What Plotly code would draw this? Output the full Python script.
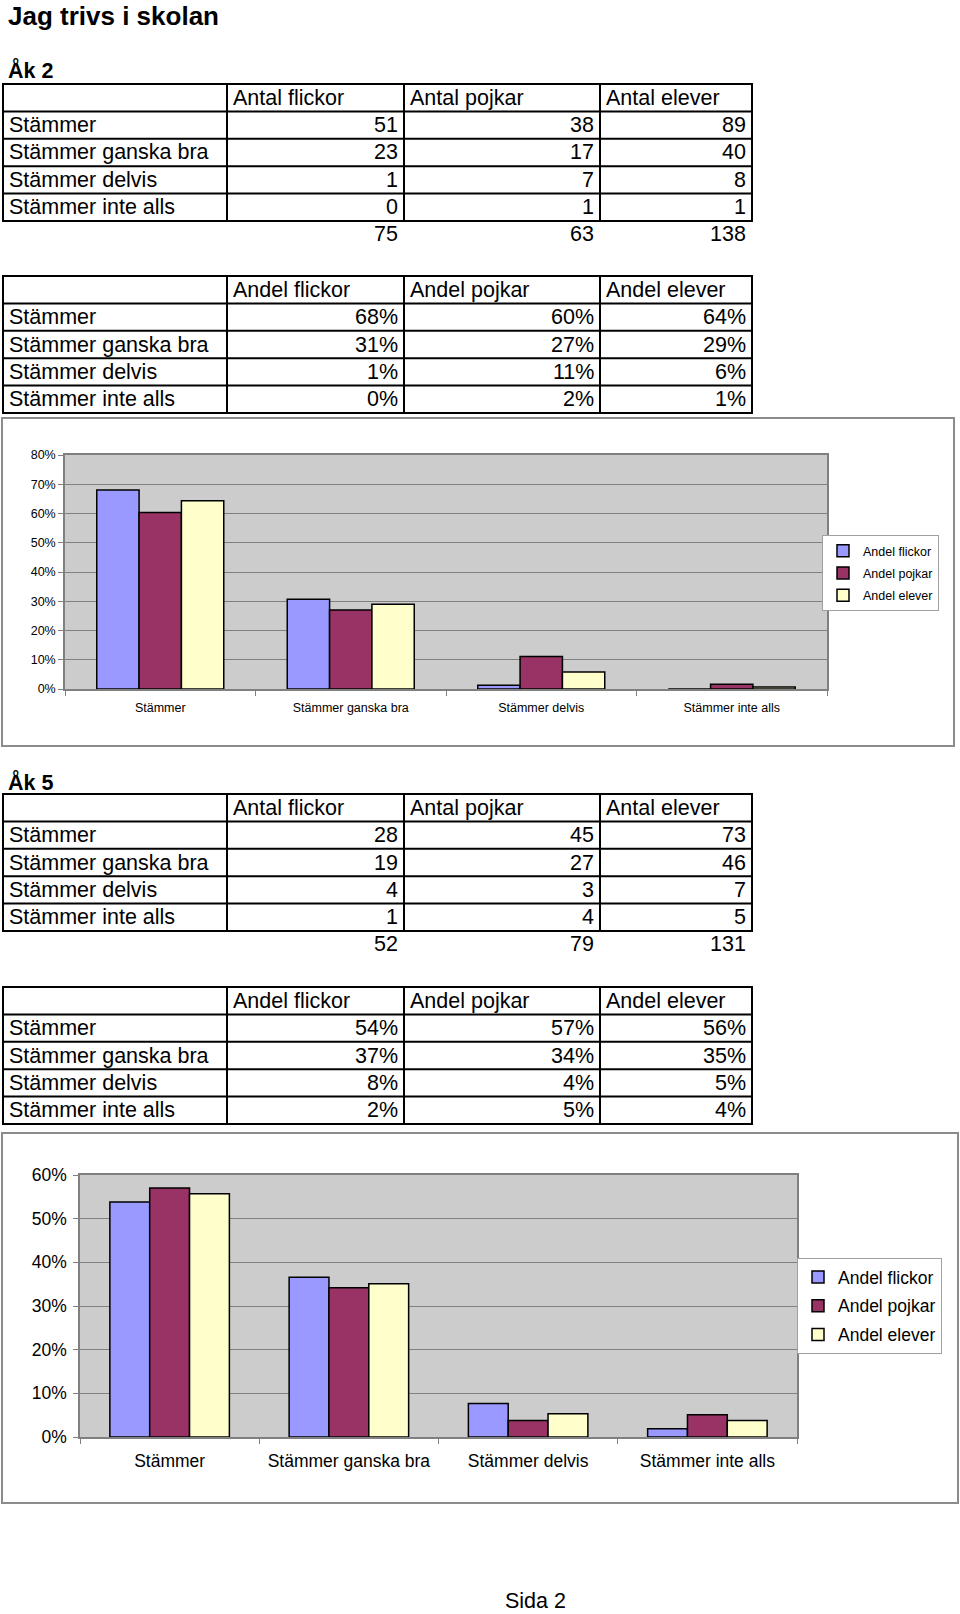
import plotly.graph_objects as go

# ---------------- data ----------------
categories = ["Stämmer", "Stämmer ganska bra", "Stämmer delvis", "Stämmer inte alls"]
count_headers = ["Antal flickor", "Antal pojkar", "Antal elever"]
share_headers = ["Andel flickor", "Andel pojkar", "Andel elever"]

# Åk 2
ak2_flickor_n = [51, 23, 1, 0]
ak2_pojkar_n = [38, 17, 7, 1]
ak2_elever_n = [89, 40, 8, 1]
ak2_totals = [75, 63, 138]
ak2_andel_flickor = [0.680, 0.307, 0.013, 0.000]
ak2_andel_pojkar = [0.603, 0.270, 0.111, 0.016]
ak2_andel_elever = [0.644, 0.290, 0.058, 0.007]

# Åk 5
ak5_flickor_n = [28, 19, 4, 1]
ak5_pojkar_n = [45, 27, 3, 4]
ak5_elever_n = [73, 46, 7, 5]
ak5_totals = [52, 79, 131]
ak5_andel_flickor = [0.538, 0.366, 0.077, 0.019]
ak5_andel_pojkar = [0.570, 0.342, 0.038, 0.051]
ak5_andel_elever = [0.557, 0.351, 0.053, 0.038]

series_colors = ["#9999FF", "#993366", "#FFFFCC"]

# ---------------- helpers ----------------
W, H = 960, 1614
FONT = "Liberation Sans, Arial, Helvetica, sans-serif"


def px(x):
    return x / W


def py(y):
    return 1 - y / H


fig = go.Figure()
shapes = []
annotations = []


def text(x, y, s, size, anchor="left", bold=False):
    annotations.append(dict(
        x=px(x), y=py(y), xref="paper", yref="paper", text=("<b>%s</b>" % s) if bold else s,
        showarrow=False, xanchor=anchor, yanchor="middle",
        font=dict(family=FONT, size=size, color="black"), borderpad=0,
    ))


def add_table(top, headers, columns, fmt, totals=None):
    col_x = [3, 227, 404, 600, 752]
    rh = 27.4
    nrows = len(categories) + 1
    ys = [top + i * rh for i in range(nrows + 1)]
    for y in ys:
        shapes.append(dict(type="line", xref="paper", yref="paper", x0=px(col_x[0] - 1), x1=px(col_x[-1] + 1),
                           y0=py(y), y1=py(y), line=dict(color="black", width=2)))
    for x in col_x:
        shapes.append(dict(type="line", xref="paper", yref="paper", x0=px(x), x1=px(x),
                           y0=py(ys[0]), y1=py(ys[-1]), line=dict(color="black", width=2)))
    for j, h in enumerate(headers):
        text(col_x[j + 1] + 5, ys[0] + rh / 2, h, 21.5)
    for i, lab in enumerate(categories):
        yc = ys[i + 1] + rh / 2
        text(col_x[0] + 5, yc, lab, 21.5)
        for j, col in enumerate(columns):
            text(col_x[j + 2] - 5, yc, fmt(col[i]), 21.5, anchor="right")
    if totals is not None:
        yc = ys[-1] + rh / 2 - 0.5
        for j, t in enumerate(totals):
            text(col_x[j + 2] - 5, yc, str(t), 21.5, anchor="right")


def pct(v):
    return "%d%%" % round(v * 100)


# ---------------- page texts ----------------
text(7, 15.5, "Jag trivs i skolan", 26, bold=True)
text(7, 70.5, "Åk 2", 21.5, bold=True)
text(7, 781.5, "Åk 5", 21.5, bold=True)
text(504, 1600.5, "Sida 2", 21.5)

add_table(84, count_headers, [ak2_flickor_n, ak2_pojkar_n, ak2_elever_n], str, ak2_totals)
add_table(276, share_headers, [ak2_andel_flickor, ak2_andel_pojkar, ak2_andel_elever], pct)
add_table(794, count_headers, [ak5_flickor_n, ak5_pojkar_n, ak5_elever_n], str, ak5_totals)
add_table(987, share_headers, [ak5_andel_flickor, ak5_andel_pojkar, ak5_andel_elever], pct)

# chart frames
shapes.append(dict(type="rect", xref="paper", yref="paper", x0=px(2), x1=px(954), y0=py(746), y1=py(418),
                   line=dict(color="#8c8c8c", width=2), layer="below"))
shapes.append(dict(type="rect", xref="paper", yref="paper", x0=px(2), x1=px(958), y0=py(1503), y1=py(1133),
                   line=dict(color="#8c8c8c", width=2), layer="below"))

# ---------------- bars ----------------
for name, vals, col in zip(share_headers, [ak2_andel_flickor, ak2_andel_pojkar, ak2_andel_elever], series_colors):
    fig.add_trace(go.Bar(x=categories, y=vals, name=name, marker=dict(color=col, line=dict(color="black", width=1.5)),
                         xaxis="x", yaxis="y", legend="legend", legendgroup="a" + name, hoverinfo="skip"))
for name, vals, col in zip(share_headers, [ak5_andel_flickor, ak5_andel_pojkar, ak5_andel_elever], series_colors):
    fig.add_trace(go.Bar(x=categories, y=vals, name=name, marker=dict(color=col, line=dict(color="black", width=1.5)),
                         xaxis="x2", yaxis="y2", legend="legend2", legendgroup="b" + name, hoverinfo="skip"))

axis_common = dict(showline=True, linecolor="#808080", linewidth=1.5, mirror=True, ticks="outside",
                   tickcolor="#808080", ticklen=5, zeroline=False, fixedrange=True, automargin=False)

fig.update_layout(
    width=W, height=H, margin=dict(l=0, r=0, t=0, b=0, pad=0, autoexpand=False),
    paper_bgcolor="white", plot_bgcolor="#cccccc",
    barmode="group", bargap=1 / 3, bargroupgap=0,
    font=dict(family=FONT, color="black"),
    xaxis=dict(domain=[px(65), px(827)], anchor="y", type="category", tickson="boundaries",
               showgrid=False, tickfont=dict(size=12.5), ticklabelstandoff=6, **axis_common),
    yaxis=dict(domain=[py(689), py(455)], anchor="x", range=[0, 0.8], dtick=0.1, tickformat=".0%",
               showgrid=True, gridcolor="#808080", gridwidth=1, tickfont=dict(size=12.5), **axis_common),
    xaxis2=dict(domain=[px(80), px(797)], anchor="y2", type="category", tickson="boundaries",
                showgrid=False, tickfont=dict(size=17.5), ticklabelstandoff=7, **axis_common),
    yaxis2=dict(domain=[py(1437), py(1175)], anchor="x2", range=[0, 0.6], dtick=0.1, tickformat=".0%",
                showgrid=True, gridcolor="#808080", gridwidth=1, tickfont=dict(size=17.5),
                ticklabelstandoff=3, **axis_common),
    legend=dict(x=px(822), y=py(535), xanchor="left", yanchor="top", bgcolor="white",
                bordercolor="#a0a0a0", borderwidth=1, font=dict(size=12.5), tracegroupgap=3,
                itemclick=False, itemdoubleclick=False),
    legend2=dict(x=px(797), y=py(1258), xanchor="left", yanchor="top", bgcolor="white",
                 bordercolor="#a0a0a0", borderwidth=1, font=dict(size=17.5), tracegroupgap=3,
                 itemclick=False, itemdoubleclick=False),
    shapes=shapes, annotations=annotations, showlegend=True,
)

fig.write_html(
    "out.html",
    config={"displayModeBar": False},
    post_script="document.body.style.margin='0px';document.body.style.padding='0px';"
                "document.documentElement.style.overflow='hidden';",
)
